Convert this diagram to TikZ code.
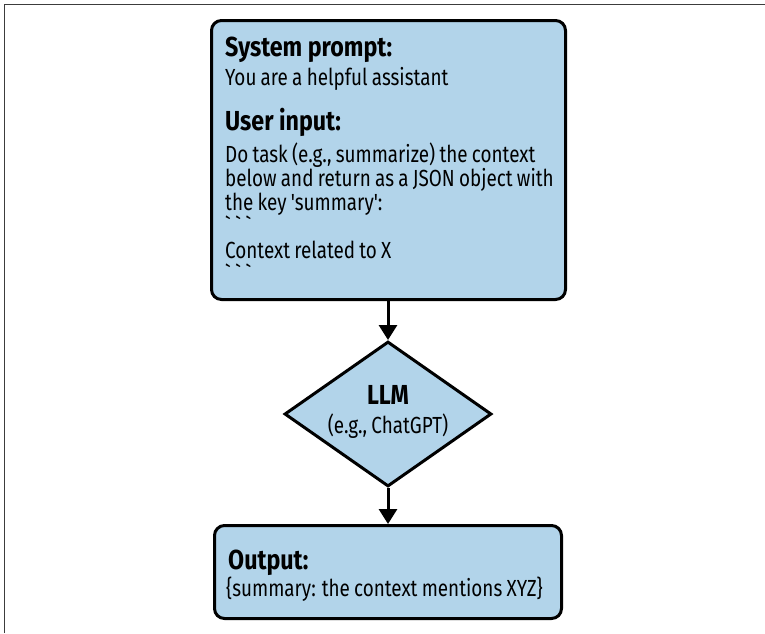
\documentclass[tikz,border=0pt]{standalone}
\usepackage{fontspec}
\setmainfont{Fira Sans}[Ligatures=TeXOff, FakeStretch=0.81, WordSpace=0.85]
\newfontfamily\headfont{Fira Sans}[Ligatures=TeXOff, FakeStretch=0.845]
\usetikzlibrary{shapes.geometric,arrows.meta}
\definecolor{boxblue}{RGB}{178,212,234}
\definecolor{framegray}{RGB}{60,60,60}
\newcommand{\fence}{`\hspace{4.5pt}`\hspace{4.5pt}`}
\tikzset{
  panel/.style={draw=black, line width=3pt, fill=boxblue, rounded corners=10pt,
    inner sep=0pt},
  decision/.style={diamond, draw=black, line width=3pt, fill=boxblue, inner sep=0pt},
  head/.style={anchor=base west, inner sep=0pt, font=\headfont\bfseries\fontsize{27.5}{30}\selectfont},
  subhead/.style={inner sep=0pt, font=\headfont\bfseries\fontsize{27.5}{30}\selectfont},
  body/.style={anchor=base west, inner sep=0pt, font=\fontsize{23.3}{26}\selectfont},
  flow/.style={line width=3pt, -{Triangle[length=15pt,width=18pt]}},
}
\begin{document}
\begin{tikzpicture}[x=1pt,y=-1pt]
\useasboundingbox (0,0) rectangle (765,633);
% partial frame along the top and left edges
\draw[framegray, line width=1.3pt] (4.5,633) -- (4.5,4.5) -- (765,4.5);

% prompt panel
\node[panel, minimum width=354pt, minimum height=279pt] (prompt) at (388.5,160) {};
\node[head] (syshead) at (225,56) {System prompt:};
\node[body] (systext) at (225,85) {You are a helpful assistant};
\node[head] (userhead) at (225,130) {User input:};
\node[body] (u1) at (225,162) {Do task (e.g., summarize) the context};
\node[body] (u2) at (225,186) {below and return as a JSON object with};
\node[body] (u3) at (225,210) {the key 'summary':};
\node[body] (u4) at (225,234) {\fence};
\node[body] (u5) at (225,258) {Context related to X};
\node[body] (u6) at (225,282) {\fence};

% model decision diamond
\node[decision, minimum width=207pt, minimum height=145pt] (llm) at (388,414) {};
\node[subhead, anchor=base] (llmname) at (388,404) {LLM};
\node[body, anchor=base] (llmex) at (388,433) {(e.g., ChatGPT)};

% output panel
\node[panel, minimum width=347pt, minimum height=93pt] (out) at (388,572) {};
\node[subhead, anchor=base west] (outhead) at (228,569) {Output:};
\node[body] (outtext) at (226,596) {\{summary: the context mentions XYZ\}};

% connectors
\draw[flow] (prompt.south -| llm.north) -- (llm.north);
\draw[flow] (llm.south) -- (out.north -| llm.south);
\end{tikzpicture}
\end{document}
